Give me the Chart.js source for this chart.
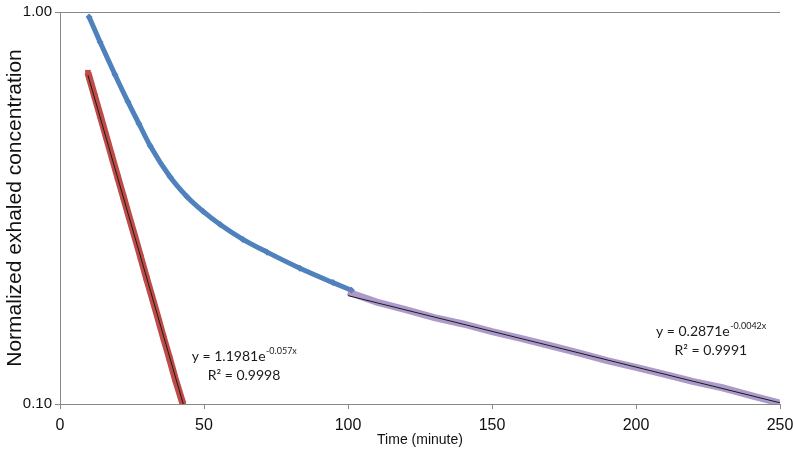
<!DOCTYPE html>
<html>
<head>
<meta charset="utf-8">
<script src="https://cdn.jsdelivr.net/npm/chart.js@4.4.0/dist/chart.umd.min.js"></script>
<style>
  html, body { margin: 0; padding: 0; background: #fff; }
  #wrap { width: 793px; height: 453px; }
</style>
</head>
<body>
<div id="wrap"><canvas id="chart"></canvas></div>
<script>
// values: time (minute) / normalized exhaled concentration
const blueTime = [10.1, 13.9, 19.1, 23.6, 27.4, 31.3, 38.2, 44.1, 49.7, 55.6, 63.5, 71.9, 83.3, 94.8, 101.2];
const blueConc = [0.971, 0.839, 0.692, 0.590, 0.519, 0.456, 0.380, 0.338, 0.310, 0.287, 0.263, 0.244, 0.222, 0.204, 0.195];

const redTime = [9.7, 12, 14, 16, 18, 20, 22, 24, 26, 28, 30, 32, 34, 36, 38, 40, 42.7];
const redConc = [0.700, 0.611, 0.543, 0.482, 0.428, 0.380, 0.338, 0.300, 0.267, 0.237, 0.210, 0.187, 0.166, 0.147, 0.131, 0.116, 0.100];

const purpleTime = [100, 110, 120, 130, 140, 150, 160, 170, 180, 190, 200, 210, 220, 230, 240, 250];
const purpleConc = [0.193, 0.182, 0.174, 0.166, 0.160, 0.153, 0.147, 0.141, 0.135, 0.129, 0.124, 0.119, 0.114, 0.110, 0.105, 0.1005];

// exponential trend lines (straight on the log axis), end points
const redFitTime = [9.7, 42.8];
const redFitConc = [0.690, 0.100];
const purpleFitTime = [100, 250];
const purpleFitConc = [0.189, 0.1007];

const xTicks = [0, 50, 100, 150, 200, 250];
const yTicks = [0.1, 1];

const fitEquations = [
  { main: 'y = 1.1981e', sup: '-0.057x', r2: 'R² = 0.9998' },
  { main: 'y = 0.2871e', sup: '-0.0042x', r2: 'R² = 0.9991' }
];

const toPoints = (xs, ys) => xs.map((x, i) => ({ x: x, y: ys[i] }));

const narrow = "'Liberation Sans Narrow', 'Arial Narrow', 'Liberation Sans', Arial, sans-serif";
const regular = "'Liberation Sans', Arial, sans-serif";

// trend line labels, anchored in data units
const fitLabelPlugin = {
  id: 'fitLabels',
  afterDatasetsDraw(chart) {
    const ctx = chart.ctx;
    const xs = chart.scales.x, ys = chart.scales.y;
    const anchors = [{ t: 63.9, c: 0.1323 }, { t: 226, c: 0.1536 }];
    ctx.save();
    ctx.fillStyle = '#1a1a1a';
    ctx.textBaseline = 'alphabetic';
    ctx.textAlign = 'left';
    fitEquations.forEach((eq, i) => {
      const cx = xs.getPixelForValue(anchors[i].t);
      const cy = ys.getPixelForValue(anchors[i].c);
      ctx.font = "14px Lato, 'Open Sans', sans-serif";
      const w1 = ctx.measureText(eq.main).width;
      ctx.font = "9px Lato, 'Open Sans', sans-serif";
      const w2 = ctx.measureText(eq.sup).width;
      let x0 = cx - (w1 + w2) / 2;
      ctx.font = "14px Lato, 'Open Sans', sans-serif";
      ctx.fillText(eq.main, x0, cy + 5);
      ctx.font = "9px Lato, 'Open Sans', sans-serif";
      ctx.fillText(eq.sup, x0 + w1 + 0.5, cy - 2);
      ctx.font = "14px Lato, 'Open Sans', sans-serif";
      const w3 = ctx.measureText(eq.r2).width;
      ctx.fillText(eq.r2, cx - w3 / 2, cy + 24);
    });
    ctx.restore();
  }
};

new Chart(document.getElementById('chart'), {
  type: 'scatter',
  data: {
    datasets: [
      {
        label: 'blue',
        order: 4,
        data: toPoints(blueTime, blueConc),
        showLine: true,
        cubicInterpolationMode: 'monotone',
        borderColor: '#4F81BD',
        backgroundColor: '#4F81BD',
        borderWidth: 5,
        pointStyle: 'rectRot',
        pointRadius: 3.5,
        pointBorderWidth: 0
      },
      {
        label: 'red',
        order: 3,
        data: toPoints(redTime, redConc),
        showLine: true,
        borderColor: '#BE4B48',
        backgroundColor: '#BE4B48',
        borderWidth: 7,
        pointStyle: 'rect',
        pointRadius: 4,
        pointBorderWidth: 0
      },
      {
        label: 'purple',
        order: 2,
        data: toPoints(purpleTime, purpleConc),
        showLine: true,
        borderColor: 'rgba(140, 115, 182, 0.72)',
        backgroundColor: 'rgba(140, 115, 182, 0.72)',
        borderWidth: 7,
        pointRadius: 0
      },
      {
        label: 'red fit',
        order: 1,
        data: toPoints(redFitTime, redFitConc),
        showLine: true,
        borderColor: '#1a1a1a',
        borderWidth: 1,
        pointRadius: 0
      },
      {
        label: 'purple fit',
        order: 1,
        data: toPoints(purpleFitTime, purpleFitConc),
        showLine: true,
        borderColor: '#1a1a1a',
        borderWidth: 1,
        pointRadius: 0
      }
    ]
  },
  options: {
    responsive: true,
    maintainAspectRatio: false,
    animation: false,
    layout: { padding: { top: 11, right: 0, left: 0, bottom: 0 } },
    plugins: {
      legend: { display: false },
      tooltip: { enabled: false }
    },
    scales: {
      x: {
        type: 'linear',
        min: 0,
        max: 250,
        afterBuildTicks: (scale) => { scale.ticks = xTicks.map(v => ({ value: v })); },
        afterFit: (scale) => { scale.height = 49; scale.paddingRight = 13; },
        grid: { drawOnChartArea: false, color: '#888', tickLength: 5 },
        border: { color: '#888' },
        ticks: { color: '#111', padding: 7, font: { family: narrow, size: 16 } },
        title: {
          display: true,
          text: 'Time (minute)',
          color: '#111',
          font: { family: narrow, size: 14 },
          padding: { top: 0, bottom: 4 }
        }
      },
      y: {
        type: 'logarithmic',
        min: 0.1,
        max: 1,
        afterBuildTicks: (scale) => { scale.ticks = yTicks.map(v => ({ value: v })); },
        afterFit: (scale) => { scale.width = 60; },
        grid: { color: '#888', tickLength: 5 },
        border: { color: '#888' },
        ticks: {
          color: '#111',
          padding: 3,
          font: { family: regular, size: 15 },
          callback: (v) => Number(v).toFixed(2)
        },
        title: {
          display: true,
          text: 'Normalized exhaled concentration',
          color: '#111',
          font: { family: regular, size: 21 },
          padding: { top: 3, bottom: 0 }
        }
      }
    }
  },
  plugins: [fitLabelPlugin]
});
</script>
</body>
</html>
